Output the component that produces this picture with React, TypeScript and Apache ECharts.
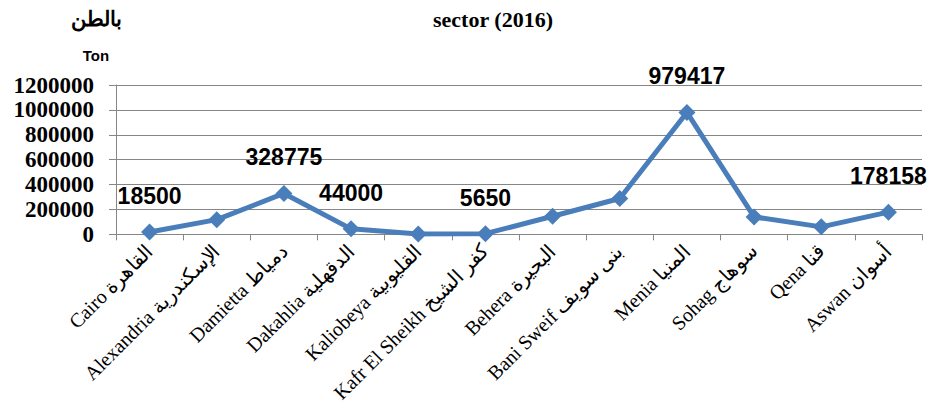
import React, { useEffect, useRef } from "react";
import * as echarts from "echarts";

const categories = [
  "Cairo القاهرة",
  "Alexandria الإسكندرية",
  "Damietta دمياط",
  "Dakahlia الدقهلية",
  "Kaliobeya القليوبية",
  "Kafr El Sheikh كفر الشيخ",
  "Behera البحيرة",
  "Bani Sweif بنى سويف",
  "Menia المنيا",
  "Sohag سوهاج",
  "Qena قنا",
  "Aswan أسوان",
];
const values = [18500, 118000, 328775, 44000, 3000, 5650, 145000, 288000, 979417, 140000, 60000, 178158];
const labeled = [true, false, true, true, false, true, false, false, true, false, false, true];
const yTicks = { min: 0, max: 1200000, interval: 200000 };
const titleText = "sector (2016)";
const unitArabic = "بالطن";
const unitEnglish = "Ton";

export default function App() {
  const ref = useRef<HTMLDivElement>(null);
  useEffect(() => {
    if (!ref.current) return;
    const chart = echarts.init(ref.current, null, { renderer: "svg" });
    const serif = "'Liberation Serif', 'Times New Roman', serif";
    const sans = "'Liberation Sans', Arial, sans-serif";
    chart.setOption({
      animation: false,
      backgroundColor: "#ffffff",
      title: [
        {
          text: titleText,
          left: 488,
          top: 3,
          textAlign: "center",
          textStyle: { fontFamily: serif, fontWeight: "bold", fontSize: 22, color: "#000" },
        },
        {
          text: unitArabic,
          left: 91,
          top: 3,
          textAlign: "center",
          textStyle: { fontFamily: sans, fontWeight: "bold", fontSize: 21, color: "#000" },
        },
        {
          text: unitEnglish,
          left: 91,
          top: 43,
          textAlign: "center",
          textStyle: { fontFamily: sans, fontWeight: "bold", fontSize: 15, color: "#000" },
        },
      ],
      grid: { left: 116, right: 12, top: 85, bottom: 169, containLabel: false },
      xAxis: {
        type: "category",
        data: categories,
        boundaryGap: true,
        axisLine: { show: true, lineStyle: { color: "#868686", width: 1 } },
        axisTick: { show: true, length: 6, interval: 0, alignWithLabel: false, lineStyle: { color: "#868686" } },
        axisLabel: {
          interval: 0,
          rotate: 45,
          margin: 13,
          fontFamily: serif,
          fontSize: 20,
          color: "#000",
        },
        splitLine: { show: false },
      },
      yAxis: {
        type: "value",
        min: yTicks.min,
        max: yTicks.max,
        interval: yTicks.interval,
        axisLine: { show: true, lineStyle: { color: "#868686", width: 1 } },
        axisTick: { show: true, length: 7, lineStyle: { color: "#868686" } },
        axisLabel: {
          margin: 22,
          fontFamily: serif,
          fontWeight: "bold",
          fontSize: 23,
          color: "#000",
          formatter: (v: number) => String(v),
        },
        splitLine: { show: true, lineStyle: { color: "#868686", width: 1 } },
      },
      series: [
        {
          type: "line",
          data: values.map((v, i) => ({
            value: v,
            label: { show: labeled[i] },
          })),
          symbol: "diamond",
          symbolSize: 17,
          itemStyle: { color: "#4a7ebb" },
          lineStyle: { color: "#4a7ebb", width: 5 },
          label: {
            position: "top",
            distance: 16,
            fontFamily: sans,
            fontWeight: "bold",
            fontSize: 23,
            color: "#000",
          },
        },
      ],
    });
    return () => chart.dispose();
  }, []);
  return (
    <div
      ref={ref}
      style={{ position: "absolute", left: 0, top: 0, width: 934, height: 405 }}
    />
  );
}
